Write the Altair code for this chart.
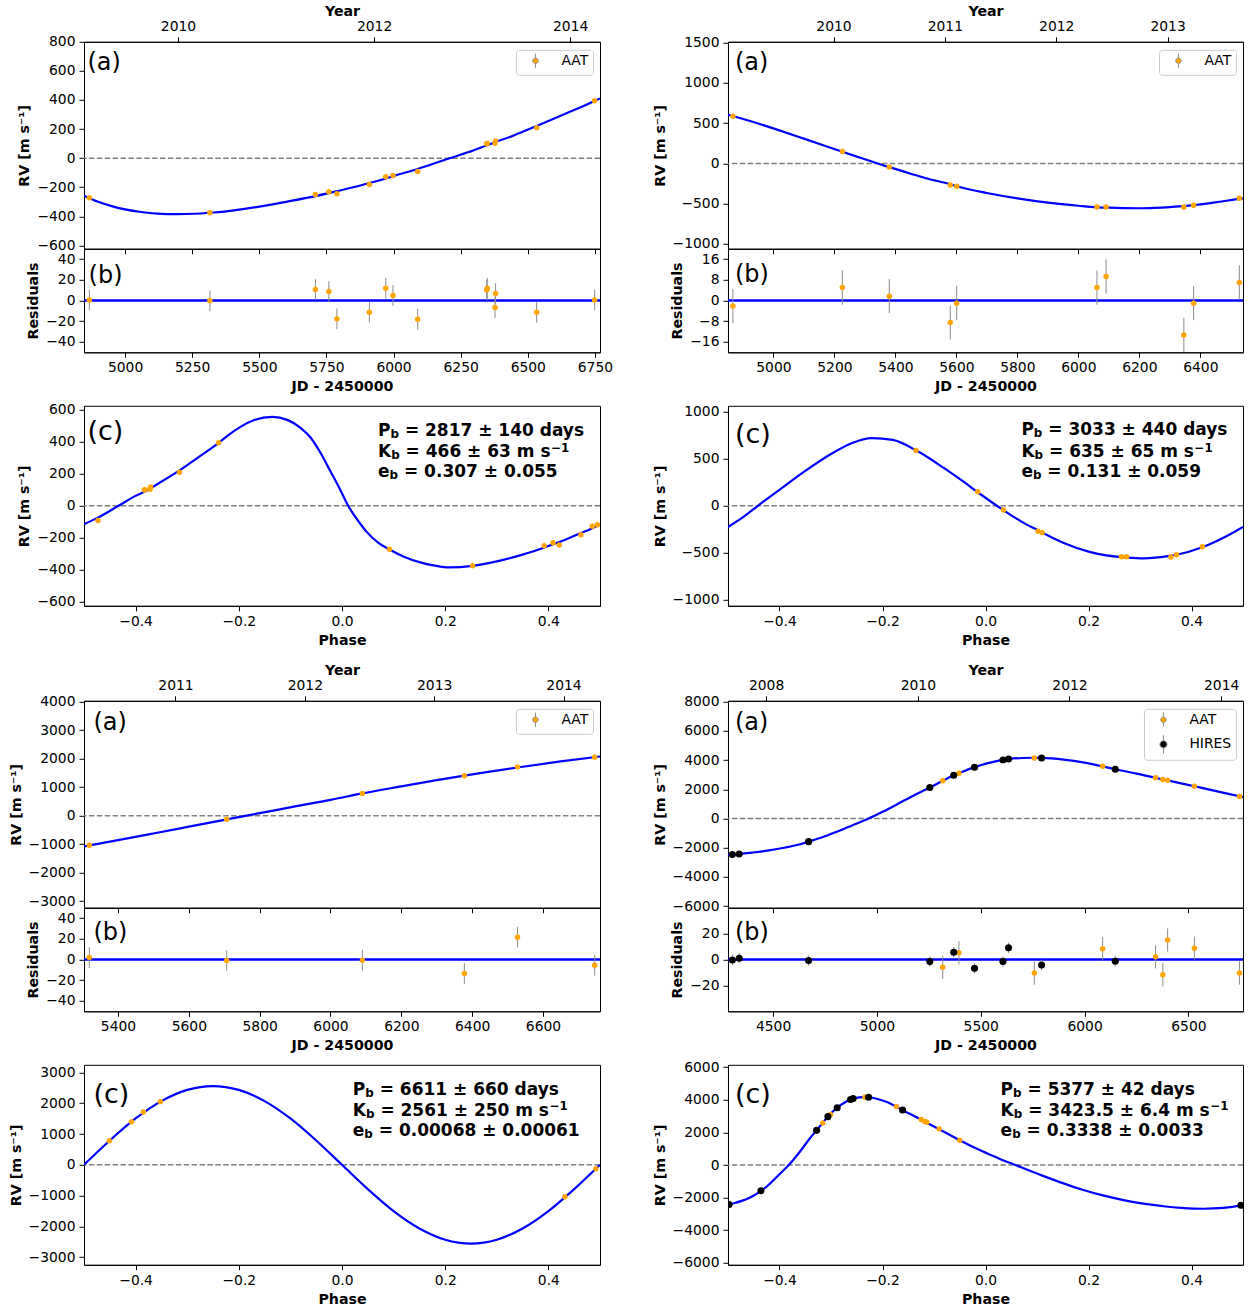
import altair as alt
import pandas as pd

FONT = "DejaVu Sans"
ORANGE = "#ffa500"
BLUE = "#0000ff"
ERR_GRAY = "#8c8c8c"
ZERO_GRAY = "#808080"

# ============================ DATA ============================
# ---- System 1 (top-left) ----
s1_jd = [4867, 5316, 5709, 5759, 5789, 5910, 5971, 5998, 6090, 6347, 6349, 6378, 6380, 6533, 6749]
s1_rv = [-272, -375, -250, -231, -245, -181, -128, -119, -92, 99, 101, 103, 118, 210, 394]
s1_err = [10, 10, 10, 10, 10, 10, 10, 10, 10, 10, 10, 10, 10, 10, 10]
s1_res = [0.6, -0.3, 10.7, 8.7, -17.7, -11.3, 12.0, 4.8, -18.0, 10.3, 12.0, -6.8, 6.8, -11.3, 0.6]
s1_phase = [0.092, 0.253, 0.392, 0.409, 0.421, 0.463, 0.485, 0.495, -0.473, -0.383, -0.382,
            -0.372, -0.371, -0.315, -0.239]
s1_inst = ["AAT"] * 15
s1_fit_jd = [4847, 4900, 4950, 5000, 5060, 5120, 5190, 5260, 5316, 5400, 5500, 5600, 5709, 5759,
             5789, 5850, 5910, 5971, 5998, 6090, 6200, 6280, 6348, 6379, 6450, 6533, 6640, 6749, 6769]
s1_fit_rv = [-258, -300, -330, -352, -370, -381, -385, -382, -375, -360, -333, -300, -261, -240,
             -227, -200, -171, -140, -124, -74, -6, 42, 89, 110, 158, 221, 305, 393, 411]
s1_fit_ph = [-0.500, -0.473, -0.433, -0.400, -0.382, -0.371, -0.315, -0.280, -0.239, -0.221,
             -0.196, -0.170, -0.135, -0.106, -0.081, -0.061, -0.042, -0.023, -0.004, 0.012,
             0.0315, 0.047, 0.070, 0.092, 0.120, 0.150, 0.180, 0.208, 0.253, 0.300, 0.350,
             0.392, 0.409, 0.421, 0.463, 0.485, 0.500]
s1_fit_ph_rv = [-115, -74, 0, 62, 89, 110, 221, 300, 393, 440, 495, 536, 556, 537, 489, 427, 333,
                219, 104, 0, -95, -160, -230, -273, -318, -352, -374, -385, -375, -347, -305,
                -261, -240, -227, -170, -140, -115]
s1_years = [2010, 2012, 2014]
s1_xticks = [5000, 5250, 5500, 5750, 6000, 6250, 6500, 6750]
s1_yticks_a = [-600, -400, -200, 0, 200, 400, 600, 800]
s1_yticks_b = [-40, -20, 0, 20, 40]
s1_yticks_c = [-600, -400, -200, 0, 200, 400, 600]
s1_params = [("P", "= 2817 ± 140 days", ""), ("K", "= 466 ± 63 m s", "−1"), ("e", "= 0.307 ± 0.055", "")]

# ---- System 2 (top-right) ----
s2_jd = [4867, 5226, 5380, 5580, 5601, 6061, 6091, 6346, 6378, 6528]
s2_rv = [587, 149, -45, -269, -285, -541, -541, -543, -521, -434]
s2_err = [6.6, 6.6, 6.6, 6.6, 6.6, 6.6, 6.6, 6.6, 6.6, 6.6]
s2_res = [-2.1, 5.0, 1.7, -8.5, -1.0, 5.0, 9.3, -13.3, -1.0, 7.0]
s2_phase = [-0.135, -0.015, 0.035, 0.102, 0.110, 0.264, 0.274, 0.360, 0.371, 0.421]
s2_inst = ["AAT"] * 10
s2_fit_jd = [4851, 4867, 4950, 5000, 5100, 5226, 5300, 5380, 5450, 5500, 5580, 5601, 5700, 5800,
             5900, 6000, 6061, 6091, 6150, 6200, 6250, 6300, 6346, 6378, 6450, 6528, 6540]
s2_fit_rv = [605, 589, 496, 435, 308, 144, 52, -47, -128, -184, -260, -284, -368, -435, -488,
             -527, -546, -550, -556, -558, -553, -543, -530, -520, -484, -441, -435]
s2_fit_ph = [-0.500, -0.470, -0.442, -0.400, -0.350, -0.300, -0.260, -0.221, -0.180, -0.135,
             -0.081, -0.040, -0.015, 0.035, 0.080, 0.102, 0.110, 0.152, 0.202, 0.264, 0.274,
             0.307, 0.360, 0.371, 0.421, 0.462, 0.500]
s2_fit_ph_rv = [-225, -118, 0, 170, 370, 550, 665, 719, 700, 589, 402, 245, 144, -47, -200, -260,
                -284, -395, -490, -546, -550, -558, -530, -520, -441, -340, -225]
s2_years = [2010, 2011, 2012, 2013]
s2_xticks = [5000, 5200, 5400, 5600, 5800, 6000, 6200, 6400]
s2_yticks_a = [-1000, -500, 0, 500, 1000, 1500]
s2_yticks_b = [-16, -8, 0, 8, 16]
s2_yticks_c = [-1000, -500, 0, 500, 1000]
s2_params = [("P", "= 3033 ± 440 days", ""), ("K", "= 635 ± 65 m s", "−1"), ("e", "= 0.131 ± 0.059", "")]

# ---- System 3 (bottom-left) ----
s3_jd = [5319, 5707, 6090, 6378, 6528, 6746]
s3_rv = [-1038, -128, 782, 1400, 1715, 2053]
s3_err = [10, 10, 10, 10, 10, 10]
s3_res = [1.9, -1.0, -0.6, -13.5, 21.6, -5.5]
s3_phase = [0.432, 0.492, -0.451, -0.408, -0.385, -0.352]
s3_inst = ["AAT"] * 6
s3_fit_jd = [5304, 5400, 5500, 5600, 5707, 5800, 5900, 6000, 6090, 6200, 6300, 6378, 6450, 6528,
             6650, 6761]
s3_fit_rv = [-1075, -860, -625, -385, -127, 90, 325, 555, 783, 1030, 1250, 1408, 1548, 1693, 1905,
             2080]
s3_fit_ph = [-0.50, -0.45, -0.40, -0.35, -0.30, -0.25, -0.20, -0.15, -0.10, -0.05, 0.00, 0.05,
             0.10, 0.15, 0.20, 0.25, 0.30, 0.35, 0.40, 0.45, 0.50]
s3_fit_ph_rv = [0, 790, 1505, 2070, 2435, 2560, 2435, 2070, 1505, 790, 0, -790, -1505, -2070,
                -2435, -2560, -2435, -2070, -1505, -790, 0]
s3_years = [2011, 2012, 2013, 2014]
s3_xticks = [5400, 5600, 5800, 6000, 6200, 6400, 6600]
s3_yticks_a = [-3000, -2000, -1000, 0, 1000, 2000, 3000, 4000]
s3_yticks_b = [-40, -20, 0, 20, 40]
s3_yticks_c = [-3000, -2000, -1000, 0, 1000, 2000, 3000]
s3_params = [("P", "= 6611 ± 660 days", ""), ("K", "= 2561 ± 250 m s", "−1"),
             ("e", "= 0.00068 ± 0.00061", "")]

# ---- System 4 (bottom-right): AAT then HIRES ----
s4_jd = [5317, 5395, 5758, 6087, 6342, 6377, 6400, 6529, 6746,
         4304, 4337, 4671, 5255, 5370, 5470, 5607, 5634, 5793, 6148]
s4_rv = [2583, 3107, 4154, 3585, 2788, 2674, 2629, 2219, 1514,
         -2470, -2425, -1582, 2128, 2970, 3516, 4017, 4086, 4154, 3380]
s4_err = [9, 9, 9, 9, 9, 9, 9, 9, 9, 4, 4, 4, 4, 4, 4, 4, 4, 4, 4]
s4_res = [-6.0, 5.2, -10.4, 8.3, 2.1, -11.7, 15.1, 8.8, -10.4,
          -0.3, 1.0, -0.8, -1.6, 5.7, -6.8, -1.6, 9.1, -4.2, -1.3]
s4_phase = [-0.316, -0.301, -0.234, -0.173, -0.125, -0.118, -0.114, -0.090, -0.050,
            0.496, -0.498, -0.436, -0.328, -0.306, -0.288, -0.262, -0.257, -0.227, -0.161]
s4_inst = ["AAT"] * 9 + ["HIRES"] * 10
s4_fit_jd = [4281, 4304, 4337, 4400, 4480, 4560, 4620, 4671, 4740, 4800, 4880, 4960, 5030, 5100,
             5180, 5255, 5317, 5370, 5395, 5470, 5540, 5607, 5634, 5700, 5758, 5793, 5900, 6000,
             6087, 6148, 6250, 6342, 6400, 6529, 6650, 6746, 6763]
s4_fit_rv = [-2500, -2470, -2426, -2330, -2185, -1985, -1800, -1581, -1270, -940, -470, 0, 480,
             1000, 1600, 2130, 2589, 2964, 3102, 3523, 3810, 4019, 4077, 4150, 4164, 4158, 4040,
             3830, 3577, 3381, 3080, 2786, 2614, 2210, 1830, 1524, 1470]
s4_fit_ph = [-0.500, -0.498, -0.487, -0.472, -0.457, -0.446, -0.436, -0.423, -0.412, -0.397,
             -0.382, -0.369, -0.356, -0.342, -0.328, -0.316, -0.306, -0.302, -0.288, -0.275,
             -0.262, -0.257, -0.245, -0.234, -0.228, -0.208, -0.189, -0.173, -0.162, -0.143,
             -0.125, -0.115, -0.091, -0.068, -0.050, -0.006, 0.027, 0.058, 0.113, 0.150, 0.190,
             0.230, 0.268, 0.300, 0.346, 0.380, 0.423, 0.462, 0.496, 0.500]
s4_fit_ph_rv = [-2441, -2426, -2330, -2185, -1985, -1800, -1581, -1270, -940, -470, 0, 480, 1000,
                1600, 2130, 2589, 2964, 3102, 3523, 3810, 4019, 4077, 4150, 4164, 4158, 4040, 3830,
                3577, 3381, 3080, 2786, 2614, 2210, 1830, 1524, 840, 390, 0, -680, -1110, -1530,
                -1880, -2150, -2340, -2530, -2625, -2680, -2630, -2470, -2441]
s4_years = [2008, 2010, 2012, 2014]
s4_xticks = [4500, 5000, 5500, 6000, 6500]
s4_yticks_a = [-6000, -4000, -2000, 0, 2000, 4000, 6000, 8000]
s4_yticks_b = [-20, 0, 20]
s4_yticks_c = [-6000, -4000, -2000, 0, 2000, 4000, 6000]
s4_params = [("P", "= 5377 ± 42 days", ""), ("K", "= 3423.5 ± 6.4 m s", "−1"),
             ("e", "= 0.3338 ± 0.0033", "")]

phase_ticks = [-0.4, -0.2, 0.0, 0.2, 0.4]

# ============================ STYLE / LAYOUT ============================
H_A, H_B, H_C = 207, 103.5, 200
GAP_BC, GAP_ROW = 53, 94.5
W_L, W_R = 516, 515
RV_TITLE = "RV [m s⁻¹]"
# legend glyph: filled dot with a vertical error bar through it
LEGEND_SYMBOL = "M-1,0A1,1 0 1,1 1,0A1,1 0 1,1 -1,0Z M0,-2.6L0,-1 M0,1L0,2.6"

BOLD_W = {" ": 0.348, "=": 0.838, "±": 0.838, ".": 0.381, "a": 0.675, "d": 0.716, "y": 0.652,
          "s": 0.595, "m": 1.042, "b": 0.716, "e": 0.678, "P": 0.733, "K": 0.775, "−": 0.838}


def bold_width(s, fs):
    return fs * sum(BOLD_W.get(ch, 0.696) for ch in s)


def year_to_jd(years):
    return [(y - 2000) * 365.25 + 1544.5 for y in years]


def y_axis(title, values):
    return alt.Axis(title=title, values=values, format="d", labelPadding=4, titlePadding=5)


def x_axis(values, title, fmt, labels=True):
    return alt.Axis(orient="bottom", values=values, format=fmt, title=title, labels=labels,
                    labelPadding=3.4, titlePadding=5)


def text_mark(txt, x, y, size, weight="normal", baseline="middle"):
    return alt.Chart(pd.DataFrame({"t": [txt]})).mark_text(
        font=FONT, fontSize=size, fontWeight=weight, align="left", baseline=baseline, color="black"
    ).encode(text="t:N", x=alt.value(x), y=alt.value(y))


def param_layers(lines, x0, bases):
    out = []
    for (letter, rest, sup), yb in zip(lines, bases):
        x_sub = x0 + bold_width(letter, 17)
        x_rest = x_sub + bold_width("b", 11.9) + bold_width(" ", 17)
        out.append(text_mark(letter, x0, yb, 17, "bold", "alphabetic"))
        out.append(text_mark("b", x_sub, yb + 2, 11.9, "bold", "alphabetic"))
        out.append(text_mark(rest, x_rest, yb, 17, "bold", "alphabetic"))
        if sup:
            out.append(text_mark(sup, x_rest + bold_width(rest, 17) + 0.5, yb - 5.5, 11.9,
                                 "bold", "alphabetic"))
    return out


def point_layers(df, xs, ys, xaxis, yaxis, inst_dom, inst_col, inst_size, legend):
    eb = alt.Chart(df).transform_calculate(
        lo="datum.y - datum.e", hi="datum.y + datum.e"
    ).mark_rule(color=ERR_GRAY, strokeWidth=1, clip=True).encode(
        x=alt.X("x:Q", scale=xs, axis=xaxis),
        y=alt.Y("lo:Q", scale=ys, axis=yaxis),
        y2="hi:Q",
    )
    pts = alt.Chart(df).mark_circle(opacity=1, clip=True).encode(
        x=alt.X("x:Q", scale=xs, axis=xaxis),
        y=alt.Y("y:Q", scale=ys, axis=yaxis),
        color=alt.Color("inst:N", scale=alt.Scale(domain=inst_dom, range=inst_col), legend=legend),
        size=alt.Size("inst:N", scale=alt.Scale(domain=inst_dom, range=inst_size), legend=legend),
    )
    return eb, pts


def zero_dashed(ys, yaxis):
    return alt.Chart(pd.DataFrame({"z": [0]})).mark_rule(
        color=ZERO_GRAY, strokeDash=[5.5, 2.4], strokeWidth=1.5
    ).encode(y=alt.Y("z:Q", scale=ys, axis=yaxis))


def spacer(w, h):
    return alt.Chart(pd.DataFrame({"z": [0]})).mark_point(opacity=0).encode(
        x=alt.value(0), y=alt.value(0)
    ).properties(width=w, height=h, view=alt.ViewBackground(stroke="transparent"))


def system(cfg):
    w = cfg["width"]
    dom = cfg["inst_dom"]
    col = cfg["inst_col"]
    siz = cfg["inst_size"]
    xs = alt.Scale(domain=cfg["xdom"], nice=False, zero=False)
    # ---------- (a) ----------
    ya = alt.Scale(domain=cfg["ydom_a"], nice=False, zero=False)
    yax_a = y_axis(RV_TITLE, cfg["yticks_a"])
    df_a = pd.DataFrame({"x": cfg["jd"], "y": cfg["rv"], "e": cfg["err"], "inst": cfg["inst"]})
    fit_a = pd.DataFrame({"x": cfg["fit_jd"], "y": cfg["fit_rv"]})
    curve_a = alt.Chart(fit_a).mark_line(color=BLUE, strokeWidth=2.2, clip=True,
                                         interpolate="monotone").encode(
        x=alt.X("x:Q", scale=xs, axis=x_axis(cfg["xticks"], None, "d", labels=False)),
        y=alt.Y("y:Q", scale=ya, axis=yax_a),
    )
    yjd = year_to_jd(cfg["years"])
    top = alt.Chart(pd.DataFrame({"x": yjd})).mark_rule(opacity=0).encode(
        x=alt.X("x:Q", scale=xs, axis=alt.Axis(
            orient="top", values=yjd, title="Year", labelPadding=3.1, titlePadding=1,
            labelExpr="round(2000 + (datum.value - 1544.5) / 365.25)")),
    )
    legend = alt.Legend(title=None, orient="top-right", offset=7.5, padding=4,
                        strokeColor="#cccccc", fillColor="white", cornerRadius=3,
                        labelFont=FONT, labelFontSize=13.9, labelColor="black",
                        symbolOffset=8.5, labelOffset=19, rowPadding=2.6,
                        symbolType=LEGEND_SYMBOL, symbolStrokeColor=ERR_GRAY,
                        symbolStrokeWidth=1)
    # x axes of (a) are independent: data layers carry none
    eb_a, pts_a = point_layers(df_a, xs, ya, None, yax_a, dom, col, siz, legend)
    lab_a = text_mark("(a)", cfg["lab"][0][0], cfg["lab"][0][1], 24)
    pa = alt.layer(zero_dashed(ya, yax_a), curve_a, eb_a, pts_a, top, lab_a).resolve_axis(
        x="independent").properties(width=w, height=H_A)
    # ---------- (b) ----------
    yb = alt.Scale(domain=cfg["ydom_b"], nice=False, zero=False)
    yax_b = y_axis("Residuals", cfg["yticks_b"])
    xax_b = x_axis(cfg["xticks"], "JD - 2450000", "d")
    df_b = pd.DataFrame({"x": cfg["jd"], "y": cfg["res"], "e": cfg["err"], "inst": cfg["inst"]})
    zero_b = alt.Chart(pd.DataFrame({"z": [0]})).mark_rule(color=BLUE, strokeWidth=2.5).encode(
        y=alt.Y("z:Q", scale=yb, axis=yax_b))
    eb_b, pts_b = point_layers(df_b, xs, yb, xax_b, yax_b, dom, col, siz, None)
    lab_b = text_mark("(b)", cfg["lab"][1][0], cfg["lab"][1][1], 24)
    pb = alt.layer(zero_b, eb_b, pts_b, lab_b).properties(width=w, height=H_B)
    # ---------- (c) ----------
    xc = alt.Scale(domain=[-0.5, 0.5], nice=False, zero=False)
    yc = alt.Scale(domain=cfg["ydom_c"], nice=False, zero=False)
    yax_c = y_axis(RV_TITLE, cfg["yticks_c"])
    xax_c = x_axis(phase_ticks, "Phase", ".1f")
    df_c = pd.DataFrame({"x": cfg["phase"], "y": cfg["rv"], "e": cfg["err"], "inst": cfg["inst"]})
    fit_c = pd.DataFrame({"x": cfg["fit_ph"], "y": cfg["fit_ph_rv"]})
    curve_c = alt.Chart(fit_c).mark_line(color=BLUE, strokeWidth=2.2, clip=True,
                                         interpolate="monotone").encode(
        x=alt.X("x:Q", scale=xc, axis=xax_c),
        y=alt.Y("y:Q", scale=yc, axis=yax_c),
    )
    eb_c, pts_c = point_layers(df_c, xc, yc, xax_c, yax_c, dom, col, siz, None)
    lab_c = text_mark("(c)", cfg["lab"][2][0], cfg["lab"][2][1], 27)
    params = param_layers(cfg["params"], cfg["px"], cfg["pbase"])
    pc = alt.layer(zero_dashed(yc, yax_c), curve_c, eb_c, pts_c, lab_c, *params).properties(
        width=w, height=H_C)
    return pa, pb, pc


ONE = dict(inst_dom=["AAT"], inst_col=[ORANGE], inst_size=[30, 30])
TWO = dict(inst_dom=["AAT", "HIRES"], inst_col=[ORANGE, "black"], inst_size=[30, 50])

a1, b1, c1 = system(dict(ONE, width=W_L, xdom=[4847, 6769], ydom_a=[-623, 800], ydom_b=[-50, 50],
                   ydom_c=[-625, 625], jd=s1_jd, rv=s1_rv, err=s1_err, res=s1_res,
                   phase=s1_phase, inst=s1_inst, fit_jd=s1_fit_jd, fit_rv=s1_fit_rv,
                   fit_ph=s1_fit_ph, fit_ph_rv=s1_fit_ph_rv, years=s1_years, xticks=s1_xticks,
                   yticks_a=s1_yticks_a, yticks_b=s1_yticks_b, yticks_c=s1_yticks_c,
                   params=s1_params, px=294, pbase=[30, 51.5, 71.5],
                   lab=[(3.4, 21.7), (4.6, 27), (3.4, 26.7)]))
a2, b2, c2 = system(dict(ONE, width=W_R, xdom=[4851, 6540], ydom_a=[-1062, 1512], ydom_b=[-20, 20],
                   ydom_c=[-1062, 1062], jd=s2_jd, rv=s2_rv, err=s2_err, res=s2_res,
                   phase=s2_phase, inst=s2_inst, fit_jd=s2_fit_jd, fit_rv=s2_fit_rv,
                   fit_ph=s2_fit_ph, fit_ph_rv=s2_fit_ph_rv, years=s2_years, xticks=s2_xticks,
                   yticks_a=s2_yticks_a, yticks_b=s2_yticks_b, yticks_c=s2_yticks_c,
                   params=s2_params, px=293.4, pbase=[29.5, 51.5, 71.5],
                   lab=[(7, 21), (7, 26.4), (7, 29)]))
a3, b3, c3 = system(dict(ONE, width=W_L, xdom=[5304, 6761], ydom_a=[-3234, 4035], ydom_b=[-50, 50],
                   ydom_c=[-3250, 3250], jd=s3_jd, rv=s3_rv, err=s3_err, res=s3_res,
                   phase=s3_phase, inst=s3_inst, fit_jd=s3_fit_jd, fit_rv=s3_fit_rv,
                   fit_ph=s3_fit_ph, fit_ph_rv=s3_fit_ph_rv, years=s3_years, xticks=s3_xticks,
                   yticks_a=s3_yticks_a, yticks_b=s3_yticks_b, yticks_c=s3_yticks_c,
                   params=s3_params, px=268.8, pbase=[30.6, 50.8, 71.3],
                   lab=[(9.4, 21.8), (9.4, 25.6), (9.4, 30.6)]))
a4, b4, c4 = system(dict(TWO, width=W_R, xdom=[4283, 6763], ydom_a=[-6116, 8068], ydom_b=[-40, 40],
                   ydom_c=[-6120, 6150], jd=s4_jd, rv=s4_rv, err=s4_err, res=s4_res,
                   phase=s4_phase, inst=s4_inst, fit_jd=s4_fit_jd, fit_rv=s4_fit_rv,
                   fit_ph=s4_fit_ph, fit_ph_rv=s4_fit_ph_rv, years=s4_years, xticks=s4_xticks,
                   yticks_a=s4_yticks_a, yticks_b=s4_yticks_b, yticks_c=s4_yticks_c,
                   params=s4_params, px=272.6, pbase=[30.6, 50.8, 71.3],
                   lab=[(7, 22.7), (7, 25.6), (7, 30.6)]))

cells = [
    a1, a2,
    b1, b2,
    spacer(W_L, GAP_BC), spacer(W_R, GAP_BC),
    c1, c2,
    spacer(W_L, GAP_ROW), spacer(W_R, GAP_ROW),
    a3, a4,
    b3, b4,
    spacer(W_L, GAP_BC), spacer(W_R, GAP_BC),
    c3, c4,
]

chart = alt.concat(
    *cells, columns=2, spacing={"row": 0, "column": 128}, bounds="flush"
).resolve_scale(
    color="independent", size="independent"
).properties(
    padding={"left": 8, "top": 3.8, "right": 2, "bottom": 2},
    background="white",
).configure_axis(
    labelFont=FONT, labelFontSize=13.9, labelColor="black",
    titleFont=FONT, titleFontSize=14.2, titleFontWeight="bold", titleColor="black",
    tickColor="black", tickSize=5, tickWidth=1, domainColor="black", domainWidth=1,
    grid=False, labelFlush=False, labelOverlap=False, labelBound=False,
).configure_view(stroke="black", strokeWidth=1)

chart.save("out.html", embed_options={"renderer": "svg", "actions": False})
